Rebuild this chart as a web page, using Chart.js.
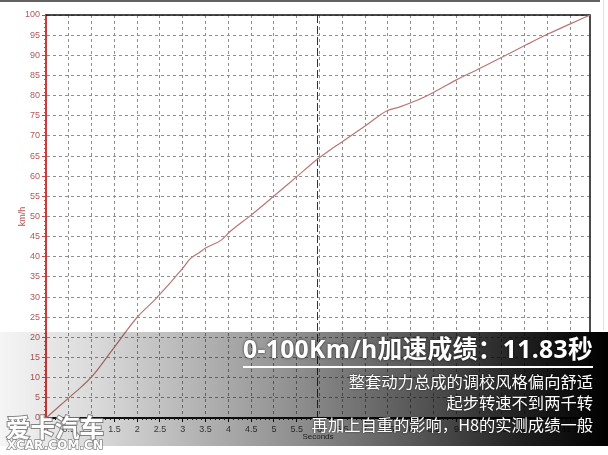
<!DOCTYPE html>
<html>
<head>
<meta charset="utf-8">
<script src="https://cdn.jsdelivr.net/npm/chart.js@4/dist/chart.umd.min.js"></script>
<style>
  html, body { margin: 0; padding: 0; background: #fff; }
  #c { display: block; }
</style>
</head>
<body>
<canvas id="c" width="608" height="455"></canvas>
<script>
// ---- data ----
const timeSec = [0, 0.05, 0.5, 0.78, 1.0, 1.5, 2.0, 2.4, 3.0, 3.16, 3.38, 3.49, 3.85, 4.03, 4.47, 4.98, 5.5, 5.97, 6.23, 6.45, 7.03, 7.47, 7.76, 8.31, 9.0, 9.52, 10.03, 10.53, 11.03, 11.5, 11.93];
const speedKmh = [0, 0.5, 5.0, 7.8, 10.2, 17.6, 25.0, 29.5, 37.2, 39.5, 41.2, 42.1, 44.2, 46.2, 50.1, 54.9, 59.9, 64.4, 66.5, 68.2, 72.7, 76.2, 77.2, 79.7, 83.9, 86.8, 89.7, 92.6, 95.4, 97.8, 100];
const xTicks = [0, 0.5, 1, 1.5, 2, 2.5, 3, 3.5, 4, 4.5, 5, 5.5, 6, 6.5, 7, 7.5, 8, 8.5, 9, 9.5, 10, 10.5, 11, 11.5];
const yTicks = [0, 5, 10, 15, 20, 25, 30, 35, 40, 45, 50, 55, 60, 65, 70, 75, 80, 85, 90, 95, 100];
const xMax = 11.93;
const markerTime = 5.95;
const xTitle = 'Seconds';
const yTitle = 'km/h';
const headline = '0-100Km/h加速成绩：11.83秒';
const notes = ['整套动力总成的调校风格偏向舒适', '起步转速不到两千转', '再加上自重的影响，H8的实测成绩一般'];
const brand = '爱卡汽车';
const brandUrl = 'XCAR.COM.CN';

const points = timeSec.map((t, i) => ({ x: t, y: speedKmh[i] }));

const decor = {
  id: 'decor',
  beforeDatasetsDraw(chart) {
    const { ctx, chartArea: a, scales: { x, y } } = chart;
    ctx.save();
    ctx.strokeStyle = '#c04848';
    ctx.lineWidth = 1;
    for (let v = 0; v <= 100; v += 1) {
      if (v % 5 === 0) continue;
      const py = Math.round(y.getPixelForValue(v)) + 0.5;
      ctx.beginPath(); ctx.moveTo(a.left - 2, py); ctx.lineTo(a.left, py); ctx.stroke();
    }
    ctx.strokeStyle = '#222';
    for (let k = 0; k <= Math.floor(xMax * 10); k++) {
      if (k % 5 === 0) continue;
      const px = Math.round(x.getPixelForValue(k / 10)) + 0.5;
      ctx.beginPath(); ctx.moveTo(px, a.bottom); ctx.lineTo(px, a.bottom + 2); ctx.stroke();
    }
    const mx = Math.round(x.getPixelForValue(markerTime)) + 0.5;
    ctx.strokeStyle = '#333';
    ctx.setLineDash([8, 3]);
    ctx.beginPath(); ctx.moveTo(mx, a.top); ctx.lineTo(mx, a.bottom); ctx.stroke();
    ctx.setLineDash([]);
    ctx.strokeStyle = '#111';
    ctx.lineWidth = 1.5;
    ctx.beginPath();
    ctx.moveTo(a.left, a.top); ctx.lineTo(a.right, a.top); ctx.lineTo(a.right, a.bottom);
    ctx.stroke();
    ctx.restore();
  },
  afterDraw(chart) {
    const { ctx, width } = chart;
    ctx.save();
    ctx.fillStyle = 'rgba(70,70,70,0.85)';
    ctx.fillRect(0, 0, 600, 2);
    ctx.fillStyle = '#e2e2e2';
    ctx.fillRect(603, 0, 1, 330);
    const bandTop = 332, bandBot = 446;
    const g = ctx.createLinearGradient(0, 0, width, 0);
    g.addColorStop(0, 'rgba(0,0,0,0.04)');
    g.addColorStop(0.16, 'rgba(0,0,0,0.15)');
    g.addColorStop(0.5, 'rgba(0,0,0,0.45)');
    g.addColorStop(0.7, 'rgba(0,0,0,0.68)');
    g.addColorStop(0.86, 'rgba(0,0,0,0.88)');
    g.addColorStop(1, 'rgba(0,0,0,1)');
    ctx.fillStyle = g;
    ctx.fillRect(0, bandTop, width, bandBot - bandTop);

    ctx.shadowColor = 'rgba(0,0,0,0.7)';
    ctx.shadowBlur = 3;
    ctx.fillStyle = '#fff';
    ctx.textAlign = 'right';
    ctx.textBaseline = 'middle';
    ctx.font = 'bold 25px "Open Sans", "Noto Sans CJK SC", sans-serif';
    ctx.letterSpacing = '0.3px';
    ctx.fillText(headline, 593, 351, 350);
    ctx.letterSpacing = '0px';
    ctx.shadowBlur = 0;
    ctx.fillRect(243, 366, 350, 2);
    ctx.shadowBlur = 2;
    ctx.font = '16.3px "Noto Sans CJK SC", sans-serif';
    ctx.fillText(notes[0], 593, 382);
    ctx.fillText(notes[1], 593, 402.5);
    ctx.fillText(notes[2], 593, 424.5);
    ctx.shadowBlur = 0;

    ctx.textAlign = 'left';
    ctx.font = 'bold 25px "Noto Sans CJK SC", sans-serif';
    ctx.lineWidth = 2;
    ctx.strokeStyle = 'rgba(120,120,120,0.9)';
    ctx.fillStyle = '#fff';
    ctx.strokeText(brand, 6, 427, 98);
    ctx.fillText(brand, 6, 427, 98);
    ctx.font = 'bold 13px "DejaVu Sans", sans-serif';
    ctx.lineWidth = 1.5;
    ctx.strokeText(brandUrl, 7, 446, 96);
    ctx.fillText(brandUrl, 7, 446, 96);
    ctx.restore();
  }
};

new Chart(document.getElementById('c'), {
  type: 'line',
  data: {
    datasets: [{
      data: points,
      borderColor: '#b87676',
      borderWidth: 1.2,
      pointRadius: 0,
      cubicInterpolationMode: 'monotone',
      fill: false
    }]
  },
  options: {
    responsive: false,
    animation: false,
    devicePixelRatio: 1,
    layout: { padding: { top: 15, right: 18, left: 0, bottom: 0 } },
    plugins: { legend: { display: false }, tooltip: { enabled: false } },
    scales: {
      x: {
        type: 'linear',
        min: 0,
        max: xMax,
        afterBuildTicks: s => { s.ticks = xTicks.map(v => ({ value: v })); },
        afterFit: s => { s.height = 37; },
        ticks: {
          autoSkip: false,
          maxRotation: 0,
          padding: 2,
          color: '#4a4a4a',
          font: { family: '"Liberation Sans", Arial, sans-serif', size: 9 },
          callback: v => String(v)
        },
        grid: { color: '#8f8f8f', lineWidth: 1, tickLength: 4, tickColor: '#111' },
        border: { display: true, color: '#111', width: 2, dash: [3, 3] },
        title: {
          display: true, text: xTitle, color: '#3a3a3a',
          font: { family: '"Liberation Sans", Arial, sans-serif', size: 8 },
          padding: { top: 0, bottom: 13 }
        }
      },
      y: {
        type: 'linear',
        min: 0,
        max: 100,
        afterBuildTicks: s => { s.ticks = yTicks.map(v => ({ value: v })); },
        afterFit: s => { s.width = 46; },
        ticks: {
          padding: 2,
          color: '#b05858',
          font: { family: '"Liberation Sans", Arial, sans-serif', size: 9 },
          callback: v => String(v)
        },
        grid: { color: '#8f8f8f', lineWidth: 1, tickLength: 4, tickColor: '#c04848' },
        border: { display: true, color: '#c83c3c', width: 2, dash: [3, 3] },
        title: {
          display: true, text: yTitle, color: '#b05858',
          font: { family: '"Liberation Sans", Arial, sans-serif', size: 9 },
          padding: { top: 17, bottom: 0 }
        }
      }
    }
  },
  plugins: [decor]
});
</script>
</body>
</html>
